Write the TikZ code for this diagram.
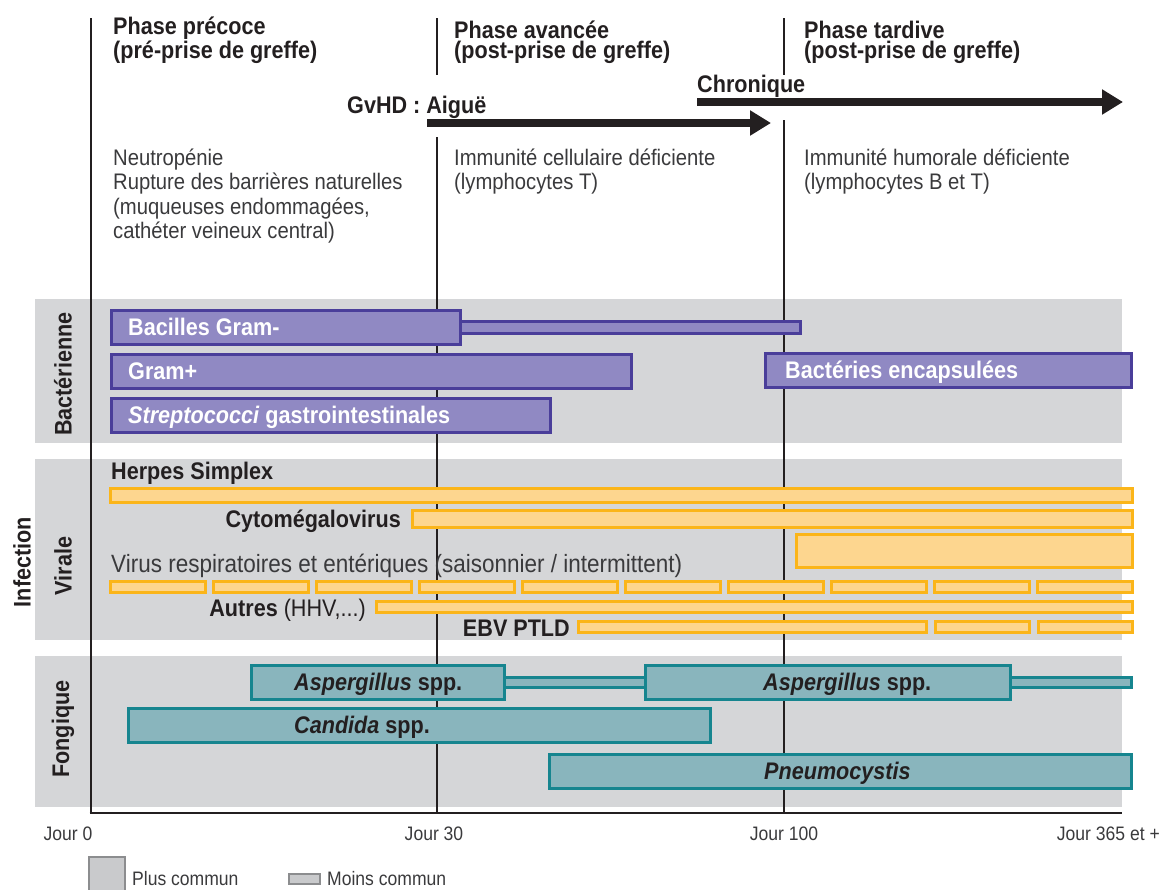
\documentclass[tikz,border=0pt]{standalone}
\usepackage{fontspec}
\setmainfont{Liberation Sans}[FakeStretch=0.9]
\usetikzlibrary{arrows.meta,calc}
\definecolor{ink}{HTML}{231F20}
\definecolor{bodyc}{HTML}{3A3A3C}
\definecolor{band}{HTML}{D5D6D8}
\definecolor{pfill}{HTML}{9089C3}
\definecolor{pline}{HTML}{4A3E9A}
\definecolor{yfill}{HTML}{FDD68F}
\definecolor{yline}{HTML}{FBB519}
\definecolor{tfill}{HTML}{89B5BD}
\definecolor{tline}{HTML}{16858F}
\definecolor{lgfill}{HTML}{C9CACC}
\definecolor{lgline}{HTML}{8C8D8F}
\newcommand\mkbar[6]{\node[#1, minimum width={(#4)-(#2)}, minimum height={(#5)-(#3)}] (#6) at (#2,#3) {};}
\begin{document}
\begin{tikzpicture}[x=1pt,y=-1pt,
  hdr/.style={font=\fontsize{24}{20}\selectfont\bfseries, text=ink, align=left, anchor=base west, inner sep=0},
  bodytxt/.style={font=\fontsize{22.5}{24.5}\selectfont, text=bodyc, align=left, anchor=base west, inner sep=0},
  gvtxt/.style={font=\fontsize{24}{24}\selectfont\bfseries, text=ink, anchor=base west, inner sep=0},
  bandbox/.style={fill=band, draw=none, anchor=north west, inner sep=0, outer sep=0},
  rowlbl/.style={font=\fontsize{24}{24}\selectfont\bfseries, text=ink, rotate=90, inner sep=0},
  vline/.style={draw=ink, line width=2.6pt},
  gvarrow/.style={draw=ink, line width=8.5pt, -{Triangle[length=21pt, width=24pt]}},
  bar/.style={line width=3pt, anchor=north west, inner sep=0, outer sep=0},
  pbar/.style={bar, fill=pfill, draw=pline},
  ybar/.style={bar, fill=yfill, draw=yline},
  tbar/.style={bar, fill=tfill, draw=tline},
  wlbl/.style={font=\fontsize{24}{24}\selectfont\bfseries, text=white, anchor=base west, inner sep=0},
  dlbl/.style={font=\fontsize{24}{24}\selectfont\bfseries, text=ink, anchor=base west, inner sep=0},
  axlbl/.style={font=\fontsize{19.5}{20}\selectfont, text=bodyc, anchor=base, inner sep=0},
  lgtxt/.style={font=\fontsize{19.5}{20}\selectfont, text=bodyc, anchor=base west, inner sep=0},
]
\useasboundingbox (0,0) rectangle (1164,889);

% background bands
\node[bandbox, minimum width=1087, minimum height=144] (bbac) at (35,299) {};
\node[bandbox, minimum width=1087, minimum height=181] (bvir) at (35,459) {};
\node[bandbox, minimum width=1087, minimum height=151] (bfon) at (35,656) {};

% vertical lines and axis
\coordinate (v0t) at (91,18);
\coordinate (v0b) at (91,813);
\coordinate (v30t) at (437,18);
\coordinate (v30m) at (437,75);
\coordinate (v30n) at (437,137);
\coordinate (v30b) at (437,813);
\coordinate (v100t) at (784,18);
\coordinate (v100m) at (784,75);
\coordinate (v100n) at (784,120);
\coordinate (v100b) at (784,813);
\coordinate (axe) at (1122,813);
\draw[vline] (v0t) -- (v0b);
\draw[vline] (v30t) -- (v30m);
\draw[vline] (v30n) -- (v30b);
\draw[vline] (v100t) -- (v100m);
\draw[vline] (v100n) -- (v100b);
\draw[vline] ([xshift=-1.3pt]v0b) -- (axe);

% headers (anchor = baseline of last line)
\node[hdr] (h1) at (113,58) {Phase précoce\\(pré-prise de greffe)};
\node[hdr] (h2) at (454,58) {Phase avancée\\(post-prise de greffe)};
\node[hdr] (h3) at (804,58) {Phase tardive\\(post-prise de greffe)};

% GvHD arrows
\node[gvtxt] (chr) at (697,92) {Chronique};
\node[gvtxt] (gvh) at (347,113) {GvHD : Aiguë};
\coordinate (cs) at (697,102);
\coordinate (ce) at (1123,102);
\coordinate (gs) at (427,123);
\coordinate (ge) at (771,123);
\draw[gvarrow] (cs) -- (ce);
\draw[gvarrow] (gs) -- (ge);

% body texts (anchor = baseline of last line)
\node[bodytxt] (t1) at (113,238.5) {Neutropénie\\Rupture des barrières naturelles\\(muqueuses endommagées,\\cathéter veineux central)};
\node[bodytxt] (t2) at (454,189.5) {Immunité cellulaire déficiente\\(lymphocytes T)};
\node[bodytxt] (t3) at (804,189.5) {Immunité humorale déficiente\\(lymphocytes B et T)};

% row labels
\node[rowlbl] (lbac) at (63,374) {Bactérienne};
\node[rowlbl] (lvir) at (63,566) {Virale};
\node[rowlbl] (lfon) at (63,729) {Fongique};
\node[rowlbl] (linf) at (22,562) {Infection};

% bacterial bars
\mkbar{pbar}{460}{321}{800}{333}{bgnx}
\mkbar{pbar}{111}{310}{460}{344}{bgn}
\mkbar{pbar}{111}{354}{631}{388}{bgp}
\mkbar{pbar}{765}{353}{1131}{387}{benc}
\mkbar{pbar}{111}{398}{550}{432}{bstr}
\node[wlbl] at ($(bgn.west)+(17,8.5)$) {Bacilles Gram-};
\node[wlbl] at ($(bgp.west)+(17,8.5)$) {Gram+};
\node[wlbl] at ($(bstr.west)+(17,8.5)$) {\textit{Streptococci} gastrointestinales};
\node[wlbl] at ($(benc.west)+(20,8.5)$) {Bactéries encapsulées};

% viral
\node[dlbl] (lhsv) at (111,479) {Herpes Simplex};
\mkbar{ybar}{110}{488}{1132}{502}{vhsv}
\node[dlbl, anchor=base east] (lcmv) at (401,527) {Cytomégalovirus};
\mkbar{ybar}{412}{510}{1132}{527}{vcmv}
\node[bodytxt, font=\fontsize{25}{25}\selectfont] (lresp) at (111,572) {Virus respiratoires et entériques (saisonnier / intermittent)};
\mkbar{ybar}{796}{534}{1132}{567}{vresp}
\foreach \i in {0,...,9}{
  \mkbar{ybar}{110+103*\i}{581}{205+103*\i}{592}{vr\i}
}
\node[dlbl, anchor=base east] (laut) at (366,616) {Autres \mdseries(HHV,...)};
\mkbar{ybar}{376}{601}{1132}{612}{vaut}
\node[dlbl, anchor=base east] (lebv) at (570,636) {EBV PTLD};
\mkbar{ybar}{578}{621}{926}{632}{vebv1}
\mkbar{ybar}{935}{621}{1029}{632}{vebv2}
\mkbar{ybar}{1038}{621}{1132}{632}{vebv3}

% fungal
\mkbar{tbar}{504}{677}{645}{687}{fasx1}
\mkbar{tbar}{1010}{677}{1131}{687}{fasx2}
\mkbar{tbar}{251}{665}{504}{699}{fas1}
\mkbar{tbar}{645}{665}{1010}{699}{fas2}
\mkbar{tbar}{128}{708}{710}{742}{fcan}
\mkbar{tbar}{549}{754}{1131}{788}{fpne}
\node[dlbl] at ($(fas1.west)+(43,8.5)$) {\textit{Aspergillus} spp.};
\node[dlbl] at ($(fas2.west)+(118,8.5)$) {\textit{Aspergillus} spp.};
\node[dlbl] at ($(fcan.west)+(166,8.5)$) {\textit{Candida} spp.};
\node[dlbl] at ($(fpne.west)+(215,8.5)$) {\textit{Pneumocystis}};

% axis labels
\node[axlbl] (j0) at (68,840) {Jour 0};
\node[axlbl] (j30) at (434,840) {Jour 30};
\node[axlbl] (j100) at (784,840) {Jour 100};
\node[axlbl, anchor=base east] (j365) at (1160,840) {Jour 365 et +};

% legend
\node[fill=lgfill, draw=lgline, line width=2.4pt, minimum width=36, minimum height=40, anchor=north west, inner sep=0] (lg1) at (88,856) {};
\node[lgtxt] (lg1t) at (132,885) {Plus commun};
\node[fill=lgfill, draw=lgline, line width=2.4pt, minimum width=31, minimum height=10, anchor=north west, inner sep=0] (lg2) at (288,873) {};
\node[lgtxt] (lg2t) at (327,885) {Moins commun};
\end{tikzpicture}
\end{document}
